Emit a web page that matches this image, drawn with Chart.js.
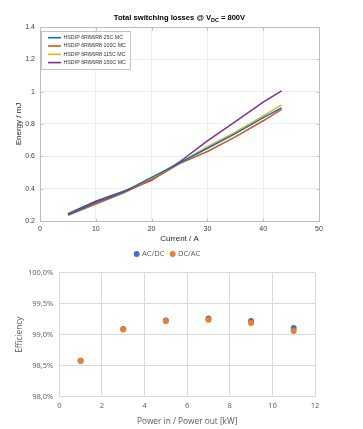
<!DOCTYPE html>
<html><head><meta charset="utf-8">
<script src="https://cdn.jsdelivr.net/npm/chart.js@4.4.1/dist/chart.umd.min.js"></script>
<style>
html,body{margin:0;padding:0;background:#fff;width:363px;height:429px;overflow:hidden}
#w1{position:absolute;left:0;top:0;width:363px;height:245px}
#w2{position:absolute;left:0;top:245px;width:363px;height:184px}
</style></head><body>
<div id="w1"><canvas id="c1"></canvas></div>
<div id="w2"><canvas id="c2"></canvas></div>
<script>
// ---- Top chart data ----
const currents = [5, 10, 15, 20, 25, 30, 35, 40, 43.3];
const labels1 = ['HSDIP 6R8/6R8 25C MC','HSDIP 6R8/6R8 100C MC','HSDIP 6R8/6R8 115C MC','HSDIP 6R8/6R8 150C MC'];
const e25  = [0.240, 0.315, 0.380, 0.470, 0.560, 0.650, 0.740, 0.840, 0.900];
const e100 = [0.235, 0.305, 0.375, 0.455, 0.555, 0.630, 0.720, 0.820, 0.890];
const e115 = [0.240, 0.310, 0.378, 0.460, 0.558, 0.660, 0.750, 0.850, 0.918];
const e150 = [0.245, 0.322, 0.385, 0.452, 0.565, 0.695, 0.815, 0.935, 1.005];
const colors1 = ['#0072BD','#D95319','#EDB120','#7E2F8E'];
const yTicks1 = [0.2, 0.4, 0.6, 0.8, 1, 1.2, 1.4];
const xTicks1 = [0, 10, 20, 30, 40, 50];

// ---- Bottom chart data ----
const power = [1, 3, 5, 7, 9, 11];
const acdc = [98.58, 99.09, 99.23, 99.26, 99.22, 99.11];
const dcac = [98.58, 99.085, 99.22, 99.24, 99.19, 99.06];
const labels2 = ['AC/DC','DC/AC'];
const colors2 = ['#4472C4','#ED7D31'];

const F1 = "'Liberation Sans', Arial, sans-serif";
const F2 = "'Open Sans', 'Liberation Sans', sans-serif";

function pts(xs, ys){ return xs.map((x,i)=>({x:x, y:ys[i]})); }

const frameLegend = {
  id:'frameLegend',
  afterDraw(chart){
    const ctx = chart.ctx, a = chart.chartArea;
    ctx.save();
    ctx.strokeStyle = '#bdbdbd'; ctx.lineWidth = 1;
    const L = Math.round(a.left)+0.5, T = Math.round(a.top)+0.5, R = Math.round(a.right)+0.5, B = Math.round(a.bottom)+0.5;
    ctx.strokeRect(L, T, R-L, B-T);
    // inner tick marks
    ctx.beginPath();
    chart.scales.x.ticks.forEach(t=>{ const px = Math.round(chart.scales.x.getPixelForValue(t.value))+0.5;
      ctx.moveTo(px,B); ctx.lineTo(px,B-3); ctx.moveTo(px,T); ctx.lineTo(px,T+3); });
    chart.scales.y.ticks.forEach(t=>{ const py = Math.round(chart.scales.y.getPixelForValue(t.value))+0.5;
      ctx.moveTo(L,py); ctx.lineTo(L+3,py); ctx.moveTo(R,py); ctx.lineTo(R-3,py); });
    ctx.stroke();
    // legend box
    const bx = 41.5, by = 31.5, bw = 89, bh = 38;
    ctx.fillStyle = '#fff'; ctx.fillRect(bx, by, bw, bh);
    ctx.strokeStyle = '#c4c4c4'; ctx.strokeRect(bx, by, bw, bh);
    chart.data.datasets.forEach((ds,i)=>{
      const y = 37.7 + i*8.3;
      ctx.strokeStyle = ds.borderColor; ctx.lineWidth = 1.6;
      ctx.beginPath(); ctx.moveTo(48, y); ctx.lineTo(61, y); ctx.stroke();
      ctx.fillStyle = '#333'; ctx.font = '5.3px ' + F1; ctx.textBaseline = 'middle';
      ctx.fillText(ds.label, 63.5, y);
    });
    // title with subscript
    ctx.fillStyle = '#000';
    const p1 = 'Total switching losses @ V', sub = 'DC', p2 = ' = 800V';
    ctx.font = 'bold 7.6px ' + F1; const w1 = ctx.measureText(p1).width, w3 = ctx.measureText(p2).width;
    ctx.font = 'bold 5.4px ' + F1; const w2 = ctx.measureText(sub).width;
    const cx = (a.left + a.right)/2; let x = cx - (w1+w2+w3)/2;
    ctx.textBaseline = 'alphabetic';
    ctx.font = 'bold 7.6px ' + F1; ctx.fillText(p1, x, 20); x += w1;
    ctx.font = 'bold 5.4px ' + F1; ctx.fillText(sub, x, 21.5); x += w2;
    ctx.font = 'bold 7.6px ' + F1; ctx.fillText(p2, x, 20);
    ctx.restore();
  }
};

const dotLegend = {
  id:'dotLegend',
  afterDraw(chart){
    const ctx = chart.ctx;
    ctx.save();
    ctx.font = '7.5px ' + F2; ctx.textBaseline = 'middle';
    const items = chart.data.datasets.map(ds=>({label:ds.label, color:ds.backgroundColor, w: ctx.measureText(ds.label).width}));
    const r = 3, gapText = 2.3, gapItem = 5.3;
    let total = 0; items.forEach((it,i)=>{ total += 2*r + gapText + it.w + (i<items.length-1?gapItem:0); });
    let x = 167 - total/2; const y = 9;
    items.forEach(it=>{
      ctx.fillStyle = it.color; ctx.beginPath(); ctx.arc(x+r, y, r, 0, Math.PI*2); ctx.fill();
      ctx.fillStyle = '#595959'; ctx.fillText(it.label, x+2*r+gapText, y);
      x += 2*r + gapText + it.w + gapItem;
    });
    ctx.restore();
  }
};

new Chart(document.getElementById('c1'), {
  type:'line',
  data:{ datasets:[
    {label:labels1[0], data:pts(currents,e25)},
    {label:labels1[1], data:pts(currents,e100)},
    {label:labels1[2], data:pts(currents,e115)},
    {label:labels1[3], data:pts(currents,e150)}
  ].map((d,i)=>Object.assign(d,{borderColor:colors1[i], backgroundColor:colors1[i], borderWidth:1.5, pointRadius:0, tension:0, fill:false}))},
  options:{
    responsive:true, maintainAspectRatio:false, animation:false,
    layout:{padding:{left:0, right:44, top:27, bottom:0}},
    plugins:{legend:{display:false}, title:{display:false}, tooltip:{enabled:false}},
    scales:{
      x:{type:'linear', min:0, max:50,
         afterBuildTicks(s){ s.ticks = xTicks1.map(v=>({value:v})); },
         afterFit(s){ s.height = 24; },
         grid:{color:'#eeeeee', drawTicks:false}, border:{display:false},
         ticks:{padding:4, color:'#404040', font:{family:F1, size:7}, maxRotation:0},
         title:{display:true, text:'Current / A', color:'#262626', font:{family:F1, size:8}, padding:{top:0,bottom:1}}},
      y:{type:'linear', min:0.2, max:1.4,
         afterBuildTicks(s){ s.ticks = yTicks1.map(v=>({value:v})); },
         afterFit(s){ s.width = 40; },
         grid:{color:'#eeeeee', drawTicks:false}, border:{display:false},
         ticks:{padding:5, color:'#404040', font:{family:F1, size:7}, callback:v=>String(+v.toFixed(1))},
         title:{display:true, text:'Energy / mJ', color:'#262626', font:{family:F1, size:8}, padding:{top:14,bottom:0}}}
    }
  },
  plugins:[frameLegend]
});

new Chart(document.getElementById('c2'), {
  type:'scatter',
  data:{ datasets:[
    {label:labels2[0], data:pts(power,acdc), order:1},
    {label:labels2[1], data:pts(power,dcac), order:0}
  ].map((d,i)=>Object.assign(d,{borderColor:colors2[i], backgroundColor:colors2[i], pointRadius:3, pointHoverRadius:3, borderWidth:0}))},
  options:{
    responsive:true, maintainAspectRatio:false, animation:false,
    layout:{padding:{left:0, right:48, top:27.7, bottom:0}},
    plugins:{ tooltip:{enabled:false}, legend:{display:false} },
    scales:{
      x:{type:'linear', min:0, max:12,
         ticks:{stepSize:2, padding:5, color:'#595959', font:{family:F2, size:7.5}, maxRotation:0},
         afterFit(s){ s.height = 32.3; },
         grid:{color:'#d9d9d9', drawTicks:false}, border:{display:false},
         title:{display:true, text:'Power in / Power out [kW]', color:'#595959', font:{family:F2, size:8.3}, padding:{top:2,bottom:2.5}}},
      y:{type:'linear', min:98, max:100,
         ticks:{stepSize:0.5, padding:6, color:'#595959', font:{family:F2, size:7.5}, callback:v=>v.toFixed(1).replace('.',',')+'%'},
         afterFit(s){ s.width = 59.3; },
         grid:{color:'#d9d9d9', drawTicks:false}, border:{display:false},
         title:{display:true, text:'Efficiency', color:'#595959', font:{family:F2, size:8.3}, padding:{top:15,bottom:0}}}
    }
  },
  plugins:[dotLegend]
});
</script>
</body></html>
